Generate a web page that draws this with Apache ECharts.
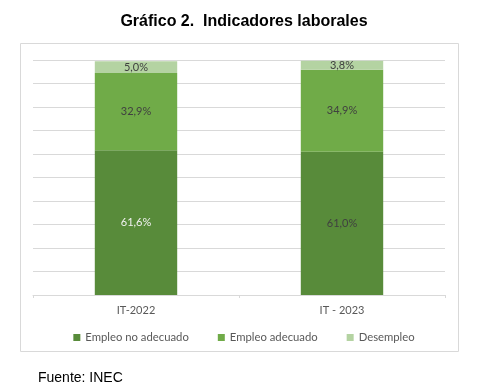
<!DOCTYPE html>
<html>
<head>
<meta charset="utf-8">
<script src="https://cdn.jsdelivr.net/npm/echarts@6/dist/echarts.min.js"></script>
<style>
html,body{margin:0;padding:0;background:#fff;}
#c{width:488px;height:391px;}
</style>
</head>
<body>
<div id="c"></div>
<script>
var categories = ['IT-2022', 'IT - 2023'];
var noAdecuado = [61.6, 61.0];
var adecuado = [32.9, 34.9];
var desempleo = [5.0, 3.8];
var seriesNames = ['Empleo no adecuado', 'Empleo adecuado', 'Desempleo'];

var chart = echarts.init(document.getElementById('c'), null, {renderer: 'canvas'});
function fmt(p) { return p.value.toFixed(1).replace('.', ',') + '%'; }
var labelFont = 'Lato, "Open Sans", sans-serif';
function mkSeries(name, data, color, labelColor) {
  return {
    name: name, type: 'bar', stack: 'a', data: data, barWidth: '40%',
    itemStyle: {color: color},
    label: {show: true, position: 'inside', formatter: fmt, color: labelColor, fontFamily: labelFont, fontSize: 11},
    emphasis: {disabled: true}
  };
}
chart.setOption({
  animation: false,
  title: {
    text: 'Gráfico 2.  Indicadores laborales',
    left: 'center', top: 9,
    textStyle: {fontFamily: '"Liberation Sans Narrow", "Arial Narrow", "Liberation Sans", sans-serif', fontWeight: 'bold', fontSize: 16, color: '#000'}
  },
  graphic: [
    {type: 'rect', shape: {x: 20.5, y: 43.5, width: 438, height: 308}, style: {fill: 'none', stroke: '#D9D9D9', lineWidth: 1}, z: -1},
    {type: 'text', left: 38, top: 371, style: {text: 'Fuente: INEC', font: '14px "Liberation Sans Narrow", "Arial Narrow", "Liberation Sans", sans-serif', fill: '#000'}}
  ],
  legend: {
    data: seriesNames, bottom: 43, left: 'center', icon: 'rect', itemWidth: 7, itemHeight: 7, itemGap: 29,
    textStyle: {color: '#595959', fontFamily: labelFont, fontSize: 11.3}
  },
  grid: {left: 33, right: 43, top: 60, bottom: 96},
  xAxis: {
    type: 'category', data: categories,
    axisLine: {lineStyle: {color: '#D9D9D9'}},
    axisTick: {show: true, length: 3, lineStyle: {color: '#D9D9D9'}},
    axisLabel: {color: '#595959', fontFamily: labelFont, fontSize: 11, margin: 10}
  },
  yAxis: {
    type: 'value', min: 0, max: 100, interval: 10,
    axisLabel: {show: false}, axisLine: {show: false}, axisTick: {show: false},
    splitLine: {lineStyle: {color: '#D9D9D9'}}
  },
  series: [
    mkSeries(seriesNames[0], noAdecuado, '#588B3A', '#404040'),
    mkSeries(seriesNames[1], adecuado, '#70AB48', '#404040'),
    mkSeries(seriesNames[2], desempleo, '#B4D3A2', '#404040')
  ]
});
// per-point label color for first series
chart.setOption({series: [{data: [
  {value: noAdecuado[0], label: {color: '#F2F2F2'}},
  {value: noAdecuado[1], label: {color: '#404040'}}
]}]});
</script>
</body>
</html>
